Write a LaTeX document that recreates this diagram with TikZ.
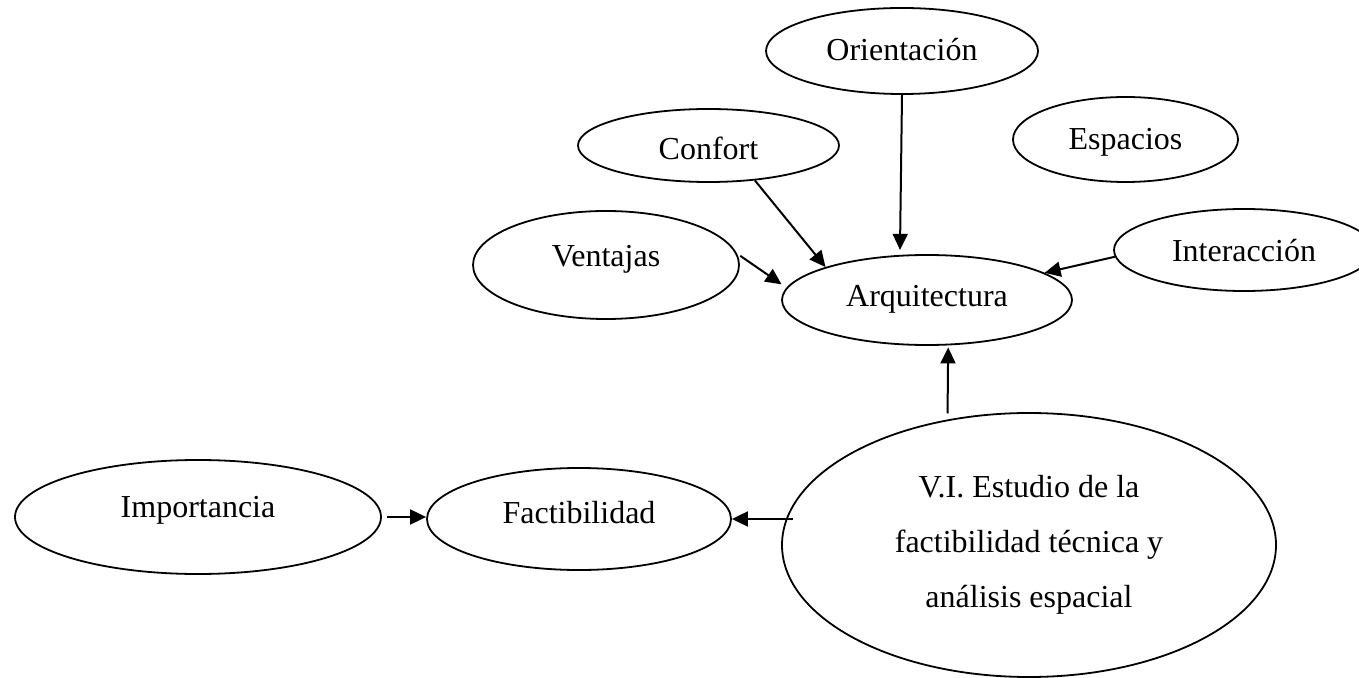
\documentclass[tikz,border=0pt]{standalone}
\usepackage{fontspec}
\setmainfont{Liberation Serif}
\usetikzlibrary{shapes.geometric,arrows.meta}
\begin{document}
\begin{tikzpicture}[x=0.5pt,y=-0.5pt,
  oval/.style={ellipse, draw, line width=0.9pt, inner sep=0pt, align=center,
    font=\fontsize{16}{27.5}\selectfont},
  arr/.style={-{Triangle[length=8pt,width=7.5pt]}, line width=1pt}]
\clip (0,0) rectangle (1359,678);
\node[oval, minimum width=136pt, minimum height=43pt, text height=13pt, text depth=3pt] (orient) at (902,51) {Orientación};
\node[oval, minimum width=130.5pt, minimum height=36.5pt, text height=15.25pt, text depth=0.75pt] (confort) at (708.5,145.5) {Confort};
\node[oval, minimum width=112.5pt, minimum height=42.5pt, text height=13.25pt, text depth=2.75pt] (espacios) at (1125.5,139.5) {Espacios};
\node[oval, minimum width=133pt, minimum height=54pt, text height=9pt, text depth=7pt] (ventajas) at (606,265) {Ventajas};
\node[oval, minimum width=130pt, minimum height=41pt, text height=14pt, text depth=2pt] (inter) at (1244,250) {Interacción};
\node[oval, minimum width=145pt, minimum height=45pt, text height=11.5pt, text depth=4.5pt] (arq) at (927,300) {Arquitectura};
\node[oval, minimum width=183pt, minimum height=57pt, text height=8pt, text depth=8pt] (imp) at (198,517) {Importancia};
\node[oval, minimum width=152pt, minimum height=51pt, text height=10pt, text depth=6pt] (fact) at (579,519) {Factibilidad};
\node[oval, minimum width=247pt, minimum height=132pt] (vi) at (1029,545) {V.I. Estudio de la\\factibilidad técnica y\\análisis espacial};
\draw[arr] (confort.-37.2) -- (arq.162.9);
\draw[arr, shorten >=2.5pt] (orient.south) -- (arq.121.8);
\draw[arr, shorten <=2pt, shorten >=3pt] (ventajas.5.6) -- (arq.175.3);
\draw[arr] (inter.-177.8) -- (arq.13.4);
\draw[arr, shorten <=3pt, shorten >=1pt] (vi.123) -- (arq.-65.9);
\draw[arr, shorten <=-6pt] (fact.east -| vi.west) -- (fact.east);
\draw[arr, shorten <=2.5pt] (imp.east) -- (imp.east -| fact.west);
\end{tikzpicture}
\end{document}
